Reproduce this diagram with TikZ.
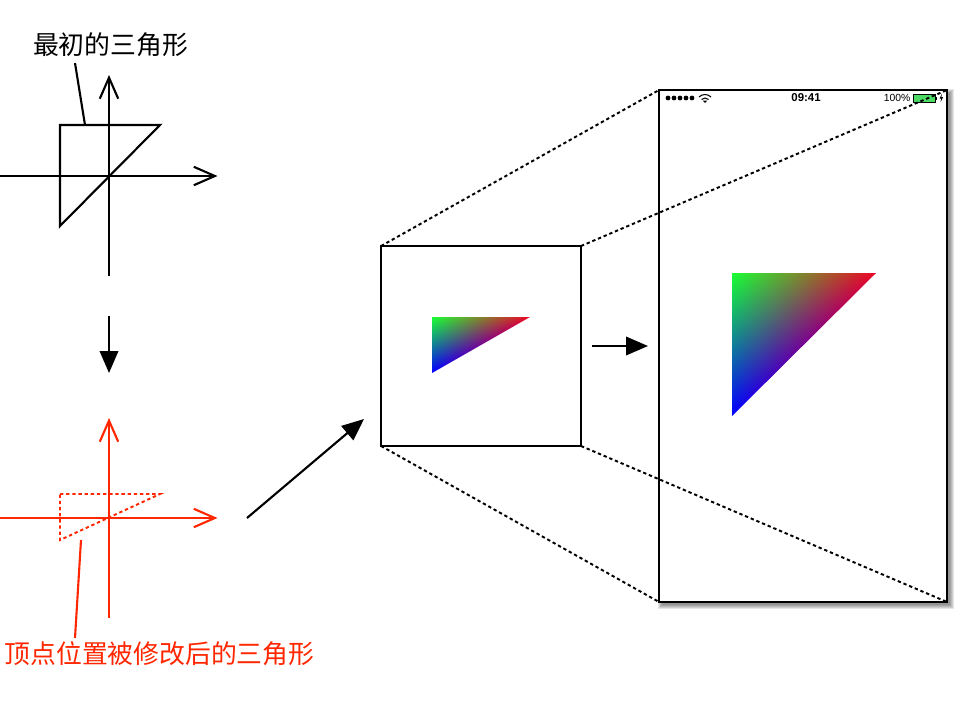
\documentclass[tikz,border=0pt]{standalone}
\usepackage{fontspec}
\setmainfont{Liberation Sans}
\newfontfamily\cjk{Noto Sans CJK SC}
\usetikzlibrary{arrows.meta, positioning}

\definecolor{markred}{RGB}{255,38,0}
\definecolor{batgreen}{RGB}{76,217,100}

% r g b at the three corners of the triangle, the shading is 100bp wide
\pgfdeclarefunctionalshading{vertexcolors}{\pgfpointorigin}{\pgfpoint{100bp}{100bp}}{}{
  25 sub 50 div exch 25 sub 50 div exch
  2 copy exch sub exch 1 exch sub
  2 index .93 mul 2 index .1 mul add
  3 index .02 mul 3 index 1 mul add
  4 index .15 mul 4 index .2 mul add 3 index 1 mul add
  6 3 roll pop pop pop
}

\begin{document}
\begin{tikzpicture}[
  x=0.02cm, y=-0.02cm,
  line width=1.2pt,
  frame/.style={rectangle, draw, fill=white, line width=1.25pt, inner sep=0pt, outer sep=0pt},
  axis/.style={-{Straight Barb[length=12pt, width=10.5pt, line width=1.2pt]}},
  arr/.style={-{Triangle[length=12.5pt, width=10.5pt]}, line width=1.2pt},
  guide/.style={dash pattern=on 1.9pt off 1.6pt, line width=1.1pt},
  label/.style={font=\cjk\fontsize{14.7}{17}\selectfont, inner sep=0pt},
  status/.style={inner sep=0pt, font=\fontsize{5.9}{7}\selectfont}
]
\useasboundingbox (0,0) rectangle (960,700);

% first triangle
\coordinate (a1) at (60,125);
\coordinate (a2) at (160,125);
\coordinate (a3) at (60,226);
\coordinate (xs) at (0,176);
\coordinate (xe) at (217.5,176);
\coordinate (ys) at (109,276);
\coordinate (ye) at (109,75);
\draw (a1) -- (a2) -- (a3) -- cycle;
\draw[axis] (xs) -- (xe);
\draw[axis] (ys) -- (ye);
\node[label] (first) at (110.5,45) {最初的三角形};
\coordinate (l1) at (75,63);
\coordinate (l2) at (85,125);
\draw (l1) -- (l2);

% changed triangle
\begin{scope}[markred]
\coordinate (b1) at (60,494);
\coordinate (b2) at (160,494);
\coordinate (b3) at (60,540);
\coordinate (rxs) at (0,518);
\coordinate (rxe) at (217.5,518);
\coordinate (rys) at (109,618);
\coordinate (rye) at (109,418);
\draw[guide] (b1) -- (b2) -- (b3) -- cycle;
\draw[axis] (rxs) -- (rxe);
\draw[axis] (rys) -- (rye);
\node[label, text=markred] (second) at (159.5,654) {顶点位置被修改后的三角形};
\coordinate (m1) at (81,540);
\coordinate (m2) at (75,638);
\draw (m1) -- (m2);
\end{scope}

% arrows between the steps
\coordinate (d1) at (109,316);
\coordinate (d2) at (109,373);
\draw[arr] (d1) -- (d2);
\coordinate (e1) at (247,518);
\coordinate (e2) at (364,419);
\draw[arr] (e1) -- (e2);

% screen with its shadow
\foreach \d in {0,1,2,3,4} {
  \fill[black, opacity=.1] (662-\d,93-\d) rectangle (950+\d,605+\d);
}
\node[frame, minimum width=5.76cm, minimum height=10.24cm] (screen) at (803,346) {};
\node[frame, minimum width=4cm, minimum height=4cm] (view) at (481,346) {};

% small triangle in the viewport
\coordinate (g1) at (432,317);
\coordinate (r1) at (530,317);
\coordinate (c1) at (432,373);
\shade[shading=vertexcolors] (g1) -- (r1) -- (c1) -- cycle;

% large triangle on the screen
\coordinate (g2) at (732,273);
\coordinate (r2) at (876,273);
\coordinate (c2) at (732,416);
\shade[shading=vertexcolors] (g2) -- (r2) -- (c2) -- cycle;

% status bar
\foreach \x in {668,674,680,686,692} {
  \fill (\x,98) circle (2.4);
}
\draw[line width=.6pt] (699,97) arc[start angle=-135, end angle=-45, radius=8.5];
\draw[line width=.6pt] (701.5,99.5) arc[start angle=-135, end angle=-45, radius=5];
\fill (705,103) -- (702.8,100.7) -- (707.2,100.7) -- cycle;
\node[status, font=\bfseries\fontsize{6.5}{8}\selectfont] (clock) at (806,98) {09:41};
\node[status, left=3pt of clock.center, xshift=63pt] (level) {100\%};
\draw[line width=.35pt, fill=batgreen] (913,94) rectangle (935,102);
\fill (935.5,96.5) rectangle (937,99.5);
\fill (942,93.5) -- (939.5,98.5) -- (941.3,98.5) -- (940.5,102.5) -- (943,97.2) -- (941.3,97.2) -- cycle;

% zoom lines and the arrow
\draw[guide] (view.north west) -- (screen.north west);
\draw[guide] (view.north east) -- (screen.north east);
\draw[guide] (view.south west) -- (screen.south west);
\draw[guide] (view.south east) -- (screen.south east);
\coordinate (f1) at (592,346);
\coordinate (f2) at (648,346);
\draw[arr] (f1) -- (f2);
\end{tikzpicture}
\end{document}
